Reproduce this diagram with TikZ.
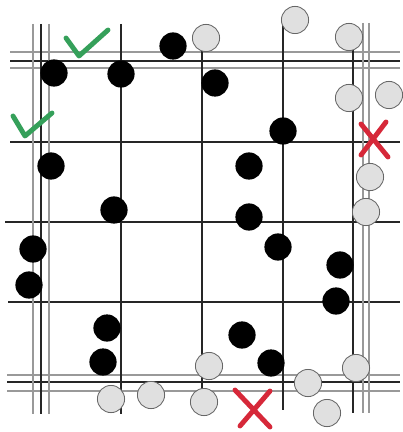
\documentclass[tikz,border=0pt]{standalone}
\usepackage{tikz}
\definecolor{tickgreen}{HTML}{35A05A}
\definecolor{crossred}{HTML}{D62839}

\begin{document}
\begin{tikzpicture}[
    x=0.025cm, y=-0.025cm,
    dline/.style={draw=black!85, line width=0.9pt},
    gline/.style={draw=black!40, line width=1.3pt},
    blackstone/.style={circle, fill=black, minimum size=0.68cm, inner sep=0pt},
    whitestone/.style={circle, draw=black!60, fill=black!12, line width=0.6pt,
                       minimum size=0.68cm, inner sep=0pt},
    okmark/.style={draw=tickgreen, line width=3.5pt, line cap=round, line join=round},
    xmark/.style={draw=crossred, line width=3.5pt, line cap=round},
]
    \useasboundingbox (0,0) rectangle (402,432);

    % horizontal lines
    \draw[gline] (10,52)  -- (400,52);
    \draw[dline] (10,61)  -- (400,61);
    \draw[gline] (10,68)  -- (400,68);
    \draw[dline] (10,142) -- (400,142);
    \draw[dline] (5,222)  -- (400,222);
    \draw[dline] (8,302)  -- (400,302);
    \draw[gline] (7,375)  -- (400,375);
    \draw[dline] (7,382)  -- (400,382);
    \draw[gline] (7,391)  -- (400,391);

    % vertical lines
    \draw[gline] (33,24)  -- (33,414);
    \draw[dline] (41,24)  -- (41,414);
    \draw[gline] (49,24)  -- (49,414);
    \draw[dline] (121,24) -- (121,414);
    \draw[dline] (202,40) -- (202,400);
    \draw[dline] (283,20) -- (283,410);
    \draw[dline] (353,40) -- (353,413);
    \draw[gline] (363,23) -- (363,413);
    \draw[gline] (369,23) -- (369,413);

    % black stones
    \node[blackstone] (b1)  at (173,46)  {};
    \node[blackstone] (b2)  at (54,73)   {};
    \node[blackstone] (b3)  at (121,74)  {};
    \node[blackstone] (b4)  at (215,83)  {};
    \node[blackstone] (b5)  at (283,131) {};
    \node[blackstone] (b6)  at (51,166)  {};
    \node[blackstone] (b7)  at (249,166) {};
    \node[blackstone] (b8)  at (114,210) {};
    \node[blackstone] (b9)  at (249,217) {};
    \node[blackstone] (b10) at (278,247) {};
    \node[blackstone] (b11) at (33,249)  {};
    \node[blackstone] (b12) at (340,265) {};
    \node[blackstone] (b13) at (29,285)  {};
    \node[blackstone] (b14) at (336,301) {};
    \node[blackstone] (b15) at (107,328) {};
    \node[blackstone] (b16) at (242,335) {};
    \node[blackstone] (b17) at (103,362) {};
    \node[blackstone] (b18) at (271,363) {};

    % white stones
    \node[whitestone] (w1)  at (206,38)  {};
    \node[whitestone] (w2)  at (295,20)  {};
    \node[whitestone] (w3)  at (349,37)  {};
    \node[whitestone] (w4)  at (349,98)  {};
    \node[whitestone] (w5)  at (389,95)  {};
    \node[whitestone] (w6)  at (370,177) {};
    \node[whitestone] (w7)  at (366,212) {};
    \node[whitestone] (w8)  at (209,366) {};
    \node[whitestone] (w9)  at (356,368) {};
    \node[whitestone] (w10) at (308,383) {};
    \node[whitestone] (w11) at (151,395) {};
    \node[whitestone] (w12) at (111,399) {};
    \node[whitestone] (w13) at (204,402) {};
    \node[whitestone] (w14) at (327,413) {};

    % ticks and crosses
    \draw[okmark] (66,38) -- (79,56) -- (108,30);
    \draw[okmark] (13,116) -- (25,136) -- (52,113);
    \draw[xmark] (361,124) -- (388,157) (386,122) -- (361,155);
    \draw[xmark] (235,390) -- (270,427) (270,391) -- (240,426);
\end{tikzpicture}
\end{document}
